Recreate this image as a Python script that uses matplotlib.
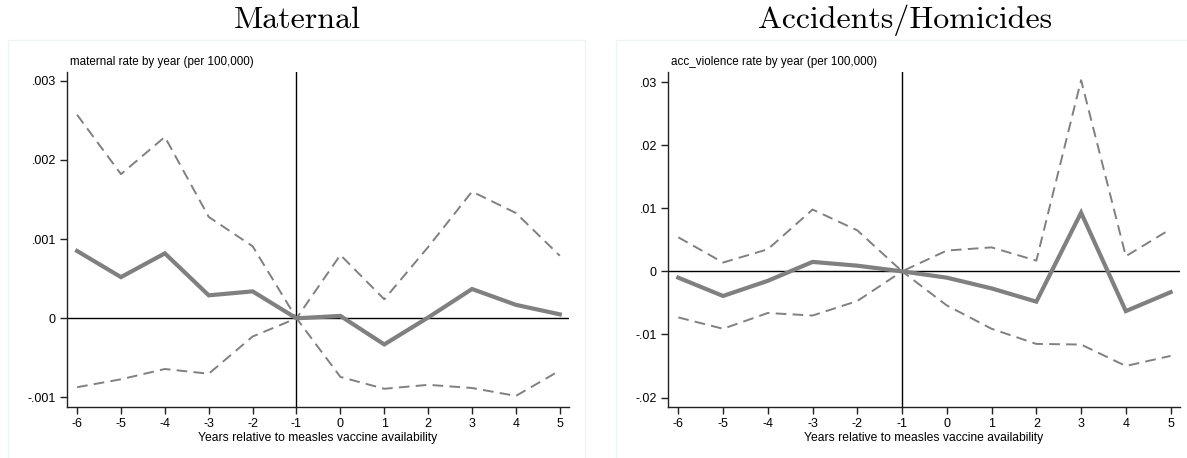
import matplotlib
matplotlib.use('Agg')
from matplotlib import pyplot as plt
from matplotlib.patches import Rectangle
from matplotlib.ticker import FuncFormatter

plt.rcParams['axes.unicode_minus'] = False

years = [-6, -5, -4, -3, -2, -1, 0, 1, 2, 3, 4, 5]

# maternal
mat_est = [0.00085, 0.00052, 0.00082, 0.00029, 0.00034, 0.0, 0.00003, -0.00033, 0.00001, 0.00037, 0.00017, 0.00005]
mat_hi = [0.00257, 0.00182, 0.00229, 0.00128, 0.00091, 0.0, 0.00080, 0.00024, 0.00090, 0.00160, 0.00133, 0.00079]
mat_lo = [-0.00087, -0.00077, -0.00064, -0.00070, -0.00023, 0.0, -0.00074, -0.00089, -0.00084, -0.00088, -0.00098, -0.00066]
mat_ticks = [-0.001, 0, 0.001, 0.002, 0.003]

# accidents / homicides
acc_est = [-0.0010, -0.0039, -0.0015, 0.0015, 0.0009, 0.0, -0.0010, -0.0027, -0.0048, 0.0093, -0.0063, -0.0033]
acc_hi = [0.0054, 0.0014, 0.0035, 0.0098, 0.0065, 0.0, 0.0033, 0.0038, 0.0017, 0.0303, 0.0024, 0.0067]
acc_lo = [-0.0073, -0.0091, -0.0066, -0.0070, -0.0047, 0.0, -0.0054, -0.0091, -0.0115, -0.0116, -0.0150, -0.0134]
acc_ticks = [-0.02, -0.01, 0, 0.01, 0.02, 0.03]

W, H = 1187, 458
GRAY = '#808080'


def fmt(v, pos):
    if abs(v) < 1e-12:
        return '0'
    s = ('%g' % v)
    return s.replace('0.', '.')


def panel(fig, box, est, hi, lo, ticks, ylim, subtitle):
    x0, x1, ytop, ybot = box
    ax = fig.add_axes([x0 / W, 1 - ybot / H, (x1 - x0) / W, (ybot - ytop) / H])
    ax.plot(years, hi, color=GRAY, lw=1.4, dashes=(5.5, 3.2))
    ax.plot(years, lo, color=GRAY, lw=1.4, dashes=(5.5, 3.2))
    ax.plot(years, est, color=GRAY, lw=3.0, solid_joinstyle='miter')
    ax.axhline(0, color='black', lw=1.0, zorder=1)
    ax.axvline(-1, color='black', lw=1.0, zorder=1)
    ax.set_xlim(-6.23, 5.21)
    ax.set_ylim(*ylim)
    ax.set_xticks(years)
    ax.set_yticks(ticks)
    ax.yaxis.set_major_formatter(FuncFormatter(fmt))
    for s in ['top', 'right']:
        ax.spines[s].set_visible(False)
    for s in ['left', 'bottom']:
        ax.spines[s].set_linewidth(1.0)
        ax.spines[s].set_color('#222222')
    ax.tick_params(direction='out', length=5, width=1.0, color='#222222',
                   labelsize=9, pad=3, labelfontfamily='Liberation Sans')
    ax.set_xlabel('Years relative to measles vaccine availability', fontsize=8.7,
                  family='Liberation Sans', labelpad=1)
    ax.text(0.005, 1.012, subtitle, transform=ax.transAxes, fontsize=8.4,
            family='Liberation Sans', ha='left', va='bottom')
    ax.patch.set_alpha(0)
    return ax


fig = plt.figure(figsize=(W / 100, H / 100), dpi=100)
fig.patch.set_facecolor('white')

# stata graph regions
fig.patches.append(Rectangle((7.7 / W, -0.05), (585 - 7.7) / W, 1 - 40.3 / H + 0.05,
                             transform=fig.transFigure, fill=False,
                             edgecolor='#eef3f3', lw=1.0))
fig.patches.append(Rectangle((616 / W, -0.05), 0.5, 1 - 40.3 / H + 0.05,
                             transform=fig.transFigure, fill=False,
                             edgecolor='#eef3f3', lw=1.0))

panel(fig, (67, 569, 72, 407), mat_est, mat_hi, mat_lo, mat_ticks,
      (-0.00112, 0.00311), 'maternal rate by year (per 100,000)')
panel(fig, (668, 1180, 72, 407), acc_est, acc_hi, acc_lo, acc_ticks,
      (-0.0215, 0.0316), 'acc_violence rate by year (per 100,000)')

fig.text(297 / W, 1 - 20 / H, 'Maternal', fontsize=23, family='cmr10',
         ha='center', va='center')
fig.text(905 / W, 1 - 20 / H, 'Accidents/Homicides', fontsize=23, family='cmr10',
         ha='center', va='center')

plt.savefig('out.png', dpi=100)
plt.close(fig)
